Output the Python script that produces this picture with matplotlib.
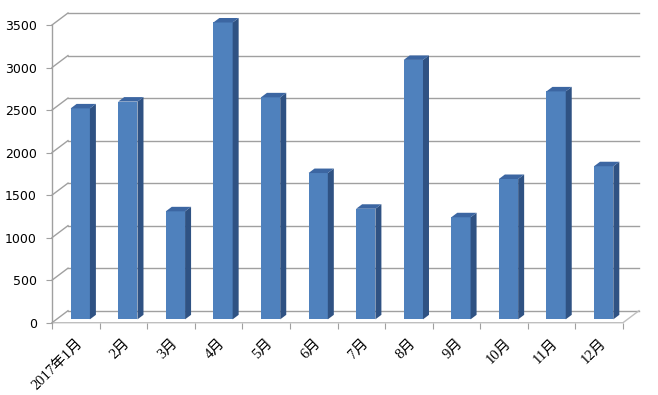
import matplotlib.pyplot as plt
from matplotlib.patches import Polygon

# monthly values
months = ['2017年1月', '2月', '3月', '4月', '5月', '6月',
          '7月', '8月', '9月', '10月', '11月', '12月']
values = [2480, 2560, 1270, 3490, 2610, 1720, 1300, 3050, 1200, 1650, 2680, 1800]
y_ticks = [0, 500, 1000, 1500, 2000, 2500, 3000, 3500]

# fake 3D depth vector (in data units) and bar placement inside it
DX, DY = 0.336, 141
d0, dd = 0.28, 0.375
bar_w = 0.405

front = '#4F81BD'
side = '#2F5283'
top = '#3C66A2'
grid = '#A0A0A0'

fig = plt.figure(figsize=(6.58, 3.95), dpi=100)
ax = fig.add_axes([52 / 658, (395 - 322.7) / 395, 571 / 658, 297.7 / 395])
ax.set_xlim(0, 12)
ax.set_ylim(0, 3500)
for s in ax.spines.values():
    s.set_visible(False)

# back wall gridlines + left wall diagonals
for v in y_ticks:
    ax.plot([DX, 12 + DX], [v + DY, v + DY], color=grid, lw=1, clip_on=False, zorder=1)
    ax.plot([0, DX], [v, v + DY], color=grid, lw=1, clip_on=False, zorder=1)

# floor front and right edges, front y axis line
ax.plot([0, 12, 12 + DX], [0, 0, DY], color='#BFBFBF', lw=1, clip_on=False, zorder=1)
ax.plot([0, 0], [0, 3500], color=grid, lw=1, clip_on=False, zorder=1)

# bars: front face through ax.bar, side and top faces as polygons
xs = [i + 0.5 + d0 * DX for i in range(len(values))]
ax.bar(xs, values, width=bar_w, bottom=d0 * DY, color=front, zorder=3, clip_on=False)
for x, v in zip(xs, values):
    xl, xr = x - bar_w / 2, x + bar_w / 2
    b, t = d0 * DY, v + d0 * DY
    ax.add_patch(Polygon([(xr, b), (xr + dd * DX, b + dd * DY),
                          (xr + dd * DX, t + dd * DY), (xr, t)],
                         closed=True, fc=side, ec='none', zorder=3, clip_on=False))
    ax.add_patch(Polygon([(xl, t), (xl + dd * DX, t + dd * DY),
                          (xr + dd * DX, t + dd * DY), (xr, t)],
                         closed=True, fc=top, ec='none', zorder=3, clip_on=False))

# ticks
ax.set_yticks(y_ticks)
ax.set_yticklabels([str(v) for v in y_ticks], fontsize=9, family='DejaVu Sans')
ax.tick_params(axis='y', length=4, color=grid, pad=7)

ax.set_xticks(range(13))
ax.set_xticklabels([])
ax.tick_params(axis='x', which='major', length=4, color=grid)
ax.set_xticks([i + 0.5 for i in range(12)], minor=True)
ax.set_xticklabels(months, minor=True, rotation=45, ha='right', rotation_mode='anchor',
                   fontsize=10.5, family=['Liberation Serif', 'Noto Sans CJK JP'])
ax.tick_params(axis='x', which='minor', length=0, pad=10)

fig.savefig('out.png', dpi=100)
